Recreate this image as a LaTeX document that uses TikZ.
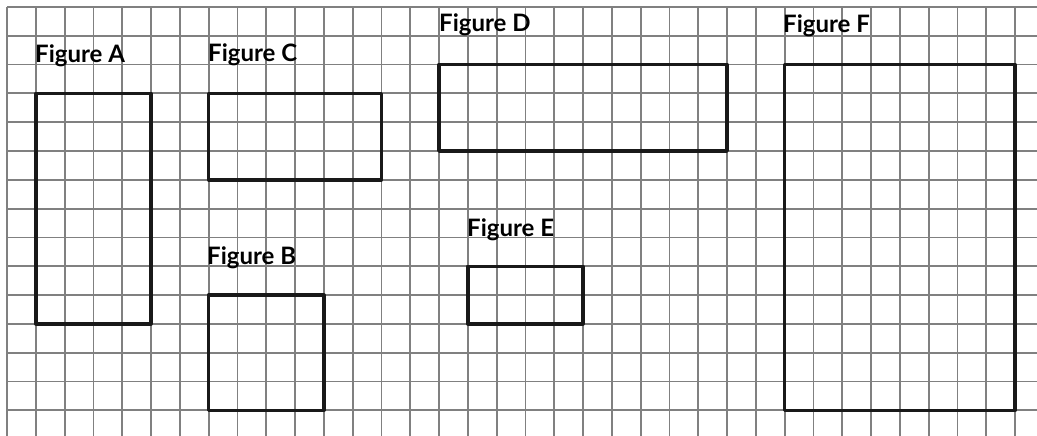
\documentclass[tikz,border=0pt]{standalone}
\usepackage{fontspec}
\setmainfont{Lato}
\begin{document}
\begin{tikzpicture}[x=1pt,y=-1pt,
  gridline/.style={draw=black!50, line width=1.8pt},
  figbox/.style={draw=black!90, line width=3.4pt, line join=round},
  figlabel/.style={anchor=base west, inner sep=0pt, font=\bfseries\fontsize{24}{26}\selectfont}]
\useasboundingbox (0,0) rectangle (1037,436);
\fill[white] (0,0) rectangle (1037,436);
\def\c{28.8}
\begin{scope}
\clip (0,0) rectangle (1037,436);
\foreach \i in {0,...,35} \draw[gridline] ({7+\i*\c},7) -- ({7+\i*\c},440);
\foreach \j in {0,...,14} \draw[gridline] (7,{7+\j*\c}) -- (1040,{7+\j*\c});
\end{scope}
% rectangles (cell coordinates)
\draw[figbox] ({7+1*\c},{7+3*\c}) rectangle ({7+5*\c},{7+11*\c});   % A
\draw[figbox] ({7+7*\c},{7+3*\c}) rectangle ({7+13*\c},{7+6*\c});   % C
\draw[figbox] ({7+7*\c},{7+10*\c}) rectangle ({7+11*\c},{7+14*\c}); % B
\draw[figbox] ({7+15*\c},{7+2*\c}) rectangle ({7+25*\c},{7+5*\c});  % D
\draw[figbox] ({7+16*\c},{7+9*\c}) rectangle ({7+20*\c},{7+11*\c}); % E
\draw[figbox] ({7+27*\c},{7+2*\c}) rectangle ({7+35*\c},{7+14*\c}); % F
% labels
\node[figlabel] (la) at (35,63) {Figure A};
\node[figlabel] (lc) at (208,61.5) {Figure C};
\node[figlabel] (ld) at (439,32) {Figure D};
\node[figlabel] (le) at (467,236) {Figure E};
\node[figlabel] (lb) at (207,264) {Figure B};
\node[figlabel] (lf) at (783,33) {Figure F};
\end{tikzpicture}
\end{document}
